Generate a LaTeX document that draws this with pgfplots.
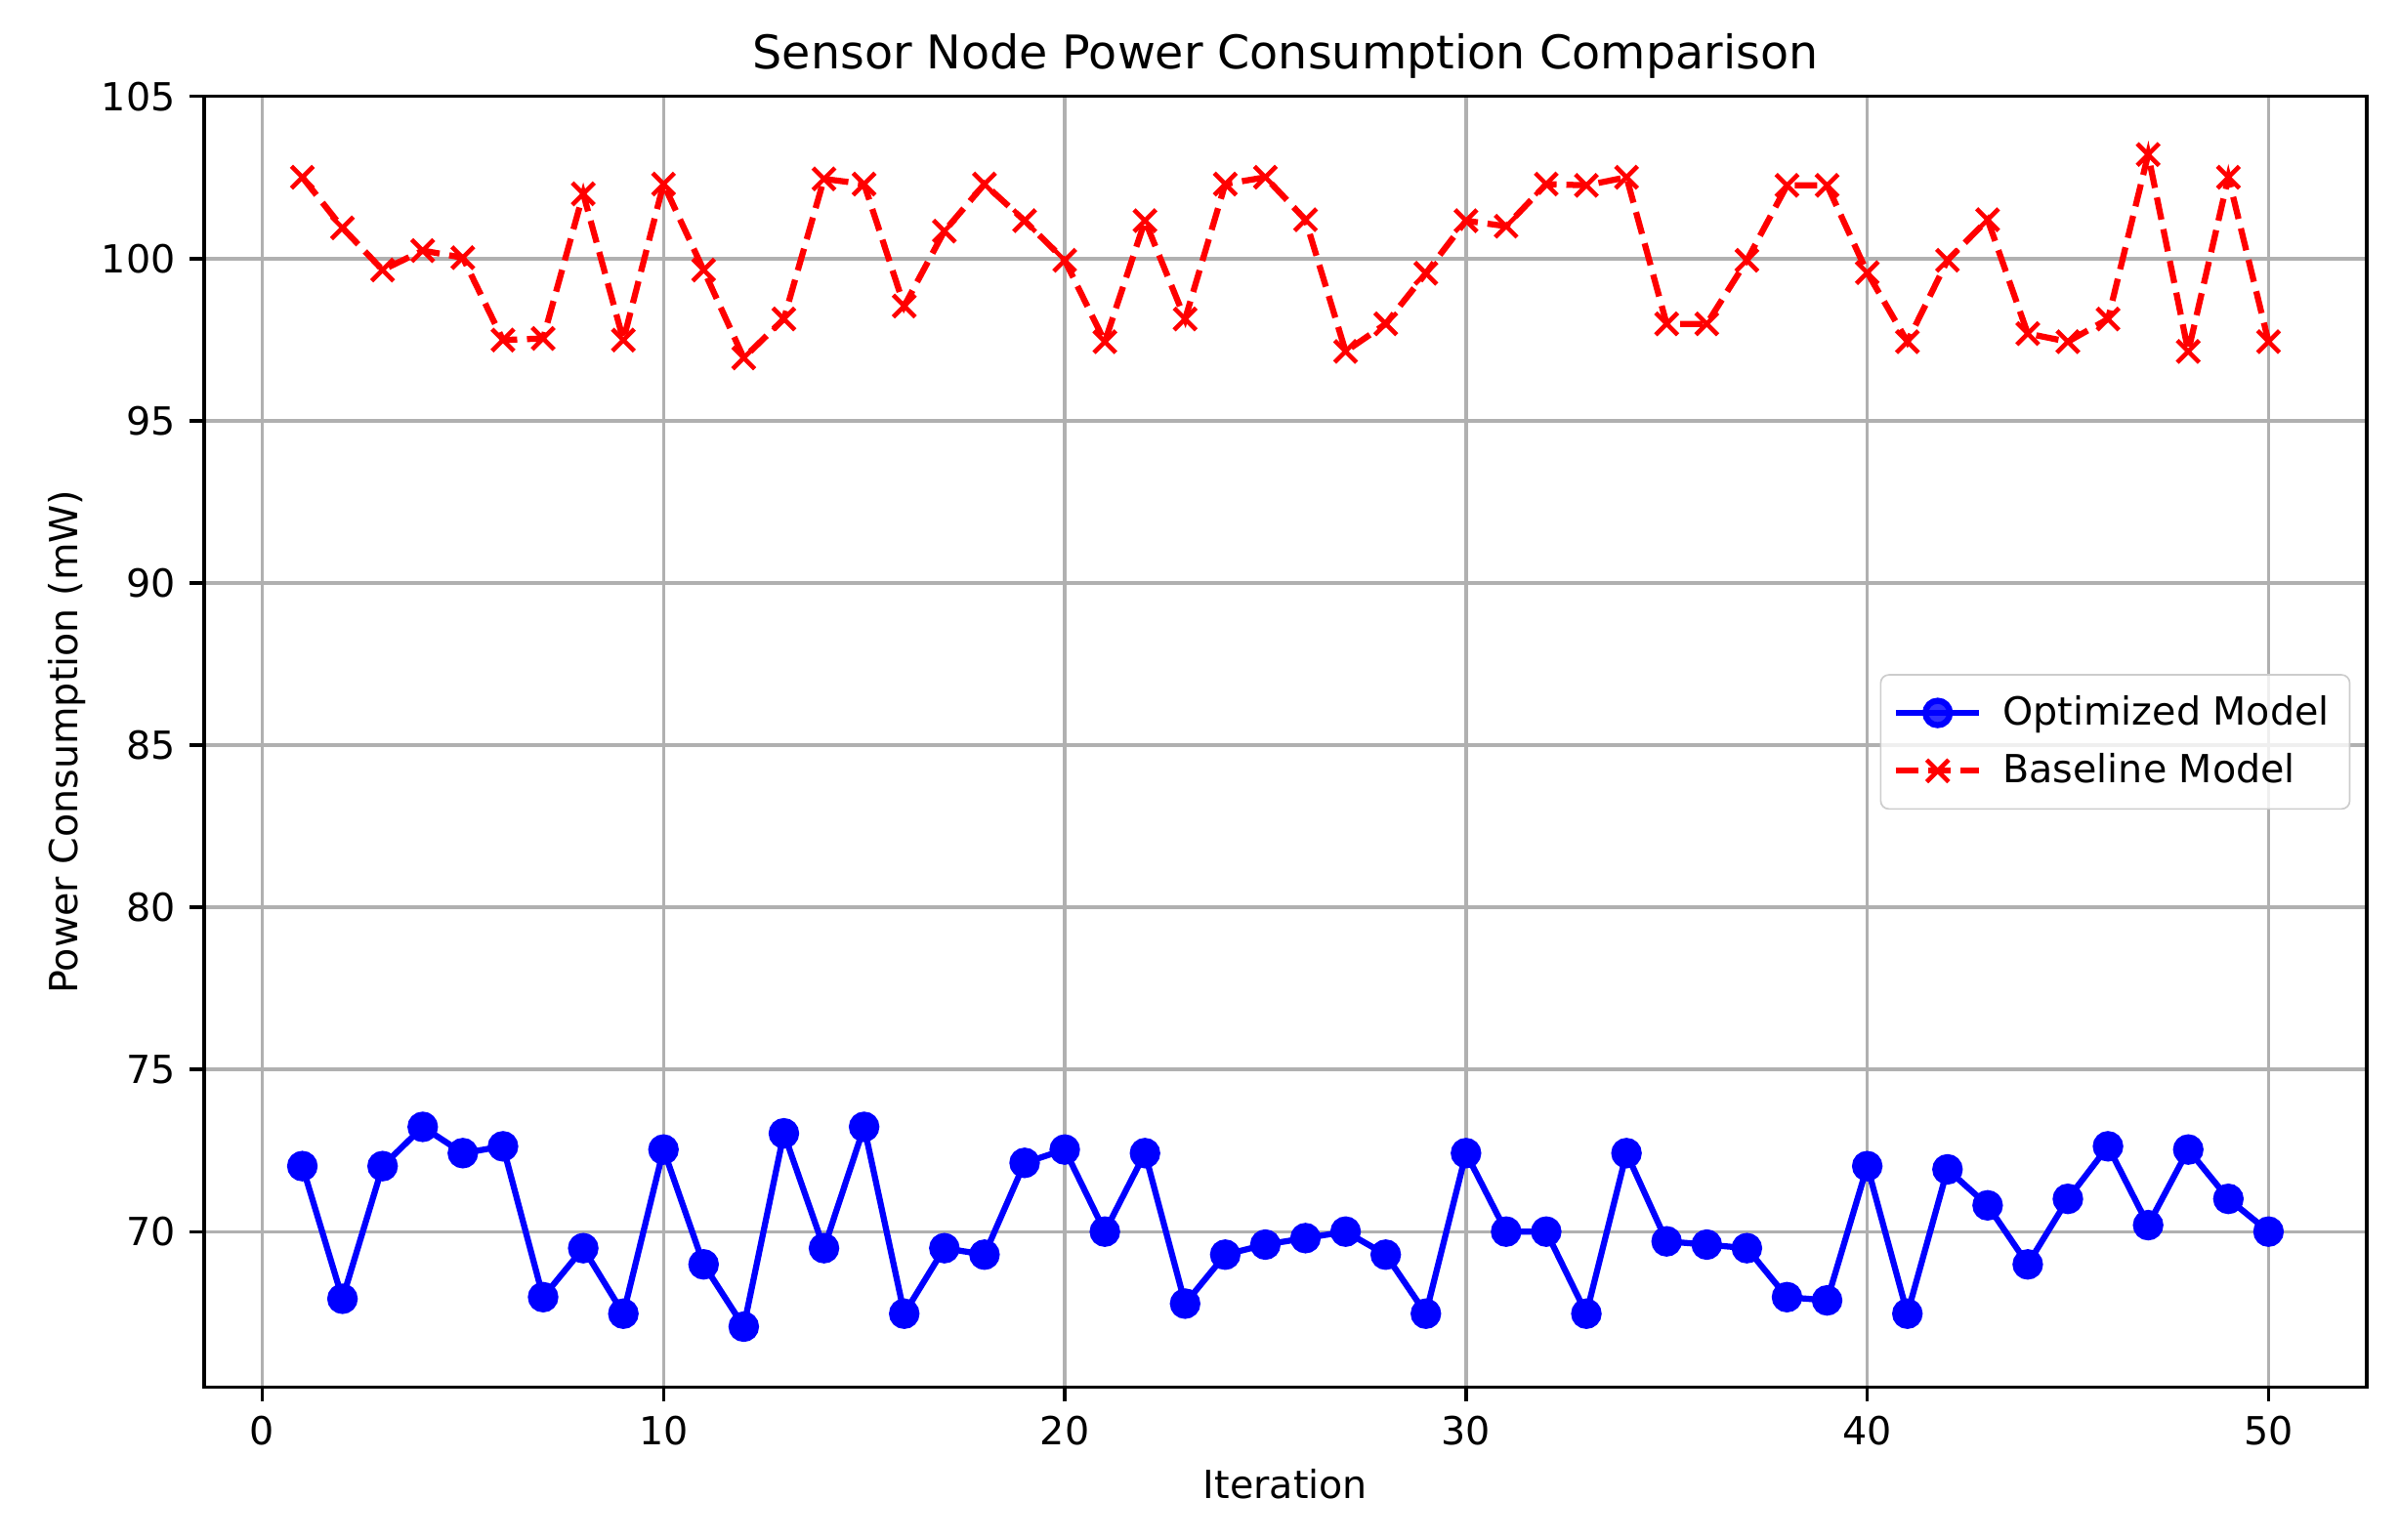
\documentclass[border=0pt]{standalone}
\usepackage{fontspec}
\setmainfont{DejaVu Sans}
\usepackage{pgfplots}
\pgfplotsset{compat=1.18}
\usetikzlibrary{calc}

\pgfplotstableread{
it opt base
1 72.02 102.51
2 67.93 100.95
3 72.02 99.65
4 73.23 100.25
5 72.42 100.03
6 72.63 97.49
7 67.98 97.54
8 69.49 102.00
9 67.47 97.49
10 72.53 102.30
11 68.99 99.65
12 67.07 96.94
13 73.03 98.14
14 69.49 102.46
15 73.23 102.30
16 67.47 98.54
17 69.49 100.85
18 69.29 102.30
19 72.12 101.17
20 72.53 99.95
21 70.00 97.44
22 72.42 101.17
23 67.78 98.14
24 69.29 102.30
25 69.60 102.51
26 69.80 101.20
27 70.00 97.14
28 69.29 97.99
29 67.47 99.55
30 72.42 101.17
31 70.00 101.00
32 70.00 102.30
33 67.47 102.26
34 72.42 102.51
35 69.70 97.99
36 69.60 97.99
37 69.49 99.95
38 67.98 102.26
39 67.88 102.26
40 72.02 99.57
41 67.47 97.44
42 71.92 99.95
43 70.81 101.20
44 68.99 97.69
45 71.01 97.44
46 72.63 98.14
47 70.20 103.21
48 72.53 97.14
49 71.01 102.51
50 70.00 97.44
}\powerdata

\pgfplotsset{longline/.style={legend image code/.code={%
  \draw[mark repeat=2, mark phase=2] plot coordinates {(0cm,0cm) (0.36cm,0cm) (0.72cm,0cm)};}}}

\begin{document}
\begin{tikzpicture}
\begin{axis}[
  scale only axis,
  width=531pt,
  height=317pt,
  xmin=-1.45, xmax=52.45,
  ymin=65.2, ymax=105,
  xtick={0,10,...,50},
  ytick={70,75,...,105},
  grid=major,
  major grid style={color=black!31, line width=0.8pt},
  axis line style={black, line width=0.8pt},
  tick align=outside,
  xtick pos=bottom,
  ytick pos=left,
  major tick length=3.5pt,
  tick style={black, line width=0.8pt},
  ticklabel style={font=\fontsize{9.5}{11}\selectfont},
  /pgf/number format/assume math mode=true,
  title={Sensor Node Power Consumption Comparison},
  title style={font=\fontsize{11.4}{13}\selectfont, at={(0.5,1)}, anchor=south, yshift=-5pt},
  xlabel={Iteration},
  ylabel={Power Consumption (mW)},
  label style={font=\fontsize{9.5}{11}\selectfont},
  xlabel style={yshift=1pt},
  ylabel style={yshift=-3pt},
  legend style={at={(1,0.5)}, anchor=east, xshift=-4pt,
    font=\fontsize{9.5}{11}\selectfont, draw=black!20, rounded corners=2pt,
    fill=white, fill opacity=0.8, text opacity=1,
    row sep=1.5pt, column sep=3pt, inner sep=3pt},
  legend cell align=left,
]
\addplot[blue, line width=1.5pt, mark=*, mark size=3pt, mark options={solid, fill=blue}, longline]
  table[x=it, y=opt] {\powerdata};
\addlegendentry{Optimized Model}
\addplot[red, line width=1.5pt, dash pattern=on 5.55pt off 2.4pt, mark=x, mark size=3.8pt, mark options={solid, line width=1.1pt}, longline]
  table[x=it, y=base] {\powerdata};
\addlegendentry{Baseline Model}
\end{axis}
\pgfresetboundingbox
\useasboundingbox ($(current axis.south west)+(-50.1pt,-37.4pt)$) rectangle ($(current axis.north east)+(7.9pt,23.7pt)$);
\end{tikzpicture}
\end{document}
